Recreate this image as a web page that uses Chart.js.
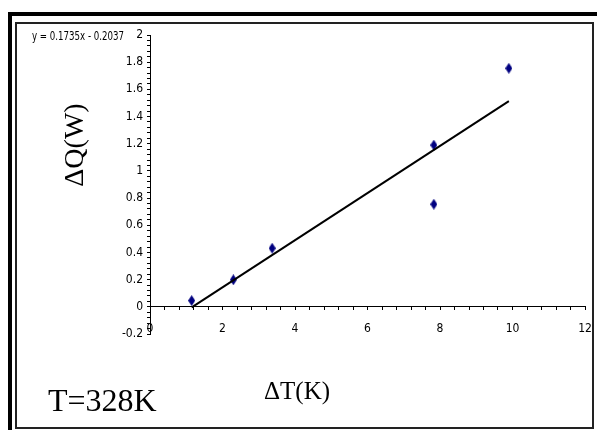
<!DOCTYPE html>
<html>
<head>
<meta charset="utf-8">
<script src="https://cdn.jsdelivr.net/npm/chart.js@4/dist/chart.umd.min.js"></script>
<style>
  body { margin: 0; background: #fff; }
  #wrap { position: relative; width: 597px; height: 430px; overflow: hidden; background: #fff; }
  #c { position: absolute; left: 0; top: 0; }
  .bar { position: absolute; background: #000; }
  #inner { position: absolute; left: 15px; top: 22px; width: 575px; height: 403px; border: 2px solid #222; }
  .txt { position: absolute; white-space: nowrap; color: #000; }
  #eq { left: 32px; top: 29px; font: 12px 'DejaVu Sans Condensed', 'Liberation Sans Narrow', sans-serif; font-stretch: condensed; transform: scaleX(0.8); transform-origin: left center; }
  #ylab { left: 74px; top: 145px; font: 28px 'Liberation Serif', 'Times New Roman', serif; transform: translate(-50%, -50%) rotate(-90deg); }
  #xlab { left: 297px; top: 391px; font: 25px 'Liberation Serif', 'Times New Roman', serif; transform: translate(-50%, -50%); }
  #temp { left: 48px; top: 400px; font: 32px 'Liberation Serif', 'Times New Roman', serif; transform: translate(0, -50%); }
</style>
</head>
<body>
<div id="wrap">
  <canvas id="c" width="597" height="430"></canvas>
  <div id="inner"></div>
  <div class="bar" style="left:8px;top:12px;width:589px;height:4px;"></div>
  <div class="bar" style="left:8px;top:12px;width:4px;height:418px;"></div>
  <div class="txt" id="eq">y = 0.1735x - 0.2037</div>
  <div class="txt" id="ylab">ΔQ(W)</div>
  <div class="txt" id="xlab">ΔT(K)</div>
  <div class="txt" id="temp">T=328K</div>
</div>
<script>
const deltaT = [1.15, 2.30, 3.37, 7.83, 7.83, 9.90];
const deltaQ = [0.046, 0.199, 0.431, 1.19, 0.755, 1.755];

// linear trendline as printed on the chart
const slope = 0.1735;
const intercept = -0.2037;

const xTickLabels = [0, 2, 4, 6, 8, 10, 12];
const yTickLabels = [-0.2, 0, 0.2, 0.4, 0.6, 0.8, 1, 1.2, 1.4, 1.6, 1.8, 2];

const points = deltaT.map((x, i) => ({ x: x, y: deltaQ[i] }));
const xMin = Math.min(...deltaT);
const xMax = Math.max(...deltaT);
const trend = [
    { x: xMin, y: slope * xMin + intercept },
    { x: xMax, y: slope * xMax + intercept }
];

// tall navy diamond marker
const marker = document.createElement('canvas');
marker.width = 7;
marker.height = 11;
const mctx = marker.getContext('2d');
mctx.fillStyle = '#000080';
mctx.beginPath();
mctx.moveTo(3.5, 0);
mctx.lineTo(7, 5.5);
mctx.lineTo(3.5, 11);
mctx.lineTo(0, 5.5);
mctx.closePath();
mctx.fill();

function isLabel(list, v) {
    return list.some(t => Math.abs(t - v) < 1e-6);
}

const tickFont = { family: "'DejaVu Sans Condensed', 'Liberation Sans Narrow', sans-serif", size: 12 };

new Chart(document.getElementById('c'), {
    type: 'scatter',
    data: {
        datasets: [
            {
                label: 'trend',
                data: trend,
                showLine: true,
                borderColor: '#000',
                borderWidth: 2,
                pointRadius: 0
            },
            {
                label: 'data',
                data: points,
                pointStyle: marker,
                pointRadius: 5
            }
        ]
    },
    options: {
        responsive: false,
        animation: false,
        layout: { padding: { left: 110, right: 12, top: 35, bottom: 96 } },
        plugins: { legend: { display: false }, tooltip: { enabled: false } },
        scales: {
            x: {
                type: 'linear',
                position: { y: 0 },
                min: 0,
                max: 12,
                // the big label padding would otherwise eat into the right edge
                afterFit: scale => { scale.paddingLeft = 0; scale.paddingRight = 0; },
                grid: { drawOnChartArea: false, tickLength: 3, color: '#000' },
                border: { color: '#000', width: 1 },
                ticks: {
                    stepSize: 0.4,
                    autoSkip: false,
                    maxRotation: 0,
                    padding: 12,
                    color: '#000',
                    font: tickFont,
                    callback: v => isLabel(xTickLabels, v) ? String(Math.round(v)) : ''
                }
            },
            y: {
                type: 'linear',
                min: -0.2,
                max: 2,
                afterFit: scale => { scale.width = 40; },
                grid: { drawOnChartArea: false, tickLength: 3, color: '#000' },
                border: { color: '#000', width: 1 },
                ticks: {
                    stepSize: 0.04,
                    autoSkip: false,
                    padding: 4,
                    color: '#000',
                    font: tickFont,
                    callback: v => isLabel(yTickLabels, v) ? String(Math.round(v * 10) / 10) : ''
                }
            }
        }
    }
});
</script>
</body>
</html>
